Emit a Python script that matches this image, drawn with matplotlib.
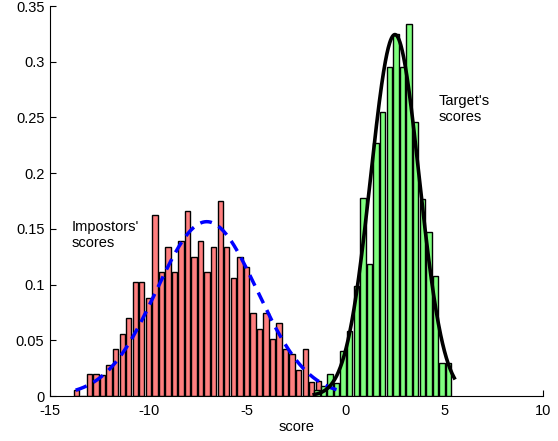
import numpy as np
import matplotlib
matplotlib.use("Agg")
import matplotlib.pyplot as plt

plt.rcParams['font.family'] = ['Liberation Sans', 'DejaVu Sans']

# Impostor score histogram (normalised counts), evenly spaced bins
impostor_first_center = -13.66
impostor_bin_width = 0.3315
impostor_heights = [
    0.0054, 0.0, 0.0197, 0.0197, 0.019, 0.028, 0.042, 0.056, 0.070, 0.102,
    0.102, 0.088, 0.162, 0.1116, 0.1335, 0.1116, 0.139, 0.166, 0.1245, 0.139,
    0.1116, 0.1335, 0.1753, 0.1335, 0.106, 0.1245, 0.1155, 0.0742, 0.0599, 0.0742,
    0.0509, 0.0652, 0.0419, 0.0377, 0.0233, 0.0419, 0.013, 0.0135,
]

# Target score histogram
target_first_center = -1.47
target_bin_width = 0.3345
target_heights = [
    0.005, 0.009, 0.020, 0.0117, 0.040, 0.058, 0.0987, 0.178, 0.1185, 0.227,
    0.255, 0.2955, 0.325, 0.2955, 0.334, 0.246, 0.177, 0.1475, 0.1077, 0.0293,
    0.0293,
]

# Normal fits to each score population
impostor_mean, impostor_std = -7.05, 2.55
impostor_range = (-13.7, -0.3)
target_mean, target_std = 2.49, 1.23
target_range = (-1.6, 5.5)

x_ticks = [-15, -10, -5, 0, 5, 10]
y_ticks = [0, 0.05, 0.1, 0.15, 0.2, 0.25, 0.3, 0.35]
y_tick_labels = ['0', '0.05', '0.1', '0.15', '0.2', '0.25', '0.3', '0.35']

FS = 10.5


def normal_pdf(x, mu, sd):
    return np.exp(-0.5 * ((x - mu) / sd) ** 2) / (sd * np.sqrt(2 * np.pi))


fig = plt.figure(figsize=(5.58, 4.41), dpi=100)
ax = fig.add_axes([50 / 558, 45 / 441, 493 / 558, 390 / 441])

imp_centers = impostor_first_center + impostor_bin_width * np.arange(len(impostor_heights))
tgt_centers = target_first_center + target_bin_width * np.arange(len(target_heights))

ax.bar(imp_centers, impostor_heights, width=impostor_bin_width * 0.82,
       color='#ff7f7f', edgecolor='black', linewidth=1.0, zorder=2)
ax.bar(tgt_centers, target_heights, width=target_bin_width * 0.82,
       color='#7fff7f', edgecolor='black', linewidth=1.0, zorder=3)

xi = np.linspace(*impostor_range, 300)
ax.plot(xi, normal_pdf(xi, impostor_mean, impostor_std), color='#0000ff',
        linestyle=(0, (3.4, 2.2)), linewidth=2.5, zorder=4)
xt = np.linspace(*target_range, 300)
ax.plot(xt, normal_pdf(xt, target_mean, target_std), color='black',
        linewidth=2.6, zorder=5)

ax.text(-13.9, 0.152, "Impostors'", fontsize=FS, va='center', ha='left')
ax.text(-13.9, 0.137, "scores", fontsize=FS, va='center', ha='left')
ax.text(4.7, 0.265, "Target's", fontsize=FS, va='center', ha='left')
ax.text(4.7, 0.250, "scores", fontsize=FS, va='center', ha='left')

ax.set_xlim(-15, 10)
ax.set_ylim(0, 0.35)
ax.set_xticks(x_ticks)
ax.set_xticklabels([str(t) for t in x_ticks])
ax.set_yticks(y_ticks)
ax.set_yticklabels(y_tick_labels)
ax.tick_params(direction='in', length=4, width=0.8, labelsize=FS)
ax.tick_params(axis='x', pad=6)
ax.tick_params(axis='y', pad=4)
ax.set_xlabel('score', fontsize=FS, labelpad=1)

for side in ('top', 'right'):
    ax.spines[side].set_visible(False)
for side in ('left', 'bottom'):
    ax.spines[side].set_linewidth(0.8)

fig.savefig('out.png', dpi=100)
